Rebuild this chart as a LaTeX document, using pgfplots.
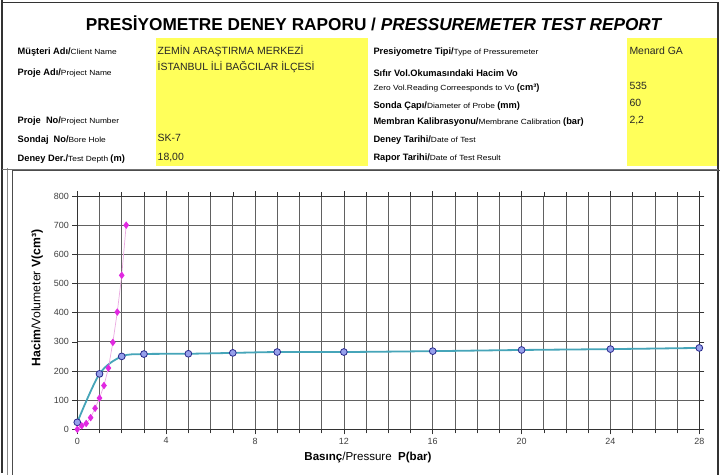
\documentclass[border=0pt]{standalone}
\usepackage{pgfplots}
\pgfplotsset{compat=1.18}
\usepackage{fontspec}
\setmainfont{Liberation Sans}
\newfontfamily\wideff{Liberation Sans}[FakeStretch=1.12]
\definecolor{hlyellow}{RGB}{255,255,90}
\definecolor{curveteal}{RGB}{70,165,185}
\definecolor{markfill}{RGB}{150,160,235}
\definecolor{markedge}{RGB}{40,40,140}
\definecolor{magdot}{RGB}{225,40,225}
\definecolor{magline}{RGB}{235,170,225}
\newcommand\B[1]{{\fontsize{9.3}{10}\selectfont\bfseries #1}}
\newcommand\Sm[1]{{\wideff\fontsize{7.5}{9}\selectfont #1}}
\newcommand\V[1]{{\fontsize{10.5}{12}\selectfont\color{black!85}#1}}
\begin{document}
\begin{tikzpicture}
\useasboundingbox (0bp,0bp) rectangle (720bp,475bp);
\fill[white] (0bp,0bp) rectangle (720bp,475bp);
\begin{scope}[x=1bp,y=1bp]
% yellow fields
\fill[hlyellow] (156,309) rectangle (368,437);
\fill[hlyellow] (627,309) rectangle (717,437);
% frames
\draw[black!80, line width=1.4bp] (2,475) -- (2,2.5) ;
\draw[black!80, line width=1.4bp] (2,472.5) -- (718,472.5) -- (718,0);
\draw[black!45, line width=0.8bp] (7.5,307) -- (7.5,0);
\draw[black!55, line width=0.8bp] (2,306) -- (718,306);
\draw[black!70, line width=0.8bp] (12.7,0) -- (12.7,304.5) -- (720,304.5);
% title
\node[anchor=base, inner sep=0] at (373.5,444.7) {\fontsize{17.3}{20}\selectfont\bfseries PRESİYOMETRE DENEY RAPORU / \itshape PRESSUREMETER TEST REPORT};
% left labels
\node[anchor=base west, inner sep=0] at (17.5,420) {\B{Müşteri Adı/}\Sm{Client Name}};
\node[anchor=base west, inner sep=0] at (17.5,399.4) {\B{Proje Adı/}\Sm{Project Name}};
\node[anchor=base west, inner sep=0] at (17.5,352) {\B{Proje\ \ No/}\Sm{Project Number}};
\node[anchor=base west, inner sep=0] at (17.5,332.7) {\B{Sondaj\ \ No/}\Sm{Bore Hole}};
\node[anchor=base west, inner sep=0] at (17.5,314) {\B{Deney Der./}\Sm{Test Depth }\B{(m)}};
% left values
\node[anchor=base west, inner sep=0] at (157.5,420.5) {\V{ZEMİN ARAŞTIRMA MERKEZİ}};
\node[anchor=base west, inner sep=0] at (157.5,404.5) {\V{İSTANBUL İLİ BAĞCILAR İLÇESİ}};
\node[anchor=base west, inner sep=0] at (157.5,334) {\V{SK-7}};
\node[anchor=base west, inner sep=0] at (157.5,314.6) {\V{18,00}};
% right labels
\node[anchor=base west, inner sep=0] at (373.3,420) {\B{Presiyometre Tipi/}\Sm{Type of Pressuremeter}};
\node[anchor=base west, inner sep=0] at (373.3,398) {\B{Sıfır Vol.Okumasındaki Hacim Vo}};
\node[anchor=base west, inner sep=0] at (373.3,384.5) {\Sm{Zero Vol.Reading Correesponds to Vo }\B{(cm³)}};
\node[anchor=base west, inner sep=0] at (373.3,366.7) {\B{Sonda Çapı/}\Sm{Diameter of Probe }\B{(mm)}};
\node[anchor=base west, inner sep=0] at (373.3,350.7) {\B{Membran Kalibrasyonu/}\Sm{Membrane Calibration }\B{(bar)}};
\node[anchor=base west, inner sep=0] at (373.3,332.7) {\B{Deney Tarihi/}\Sm{Date of Test}};
\node[anchor=base west, inner sep=0] at (373.3,315) {\B{Rapor Tarihi/}\Sm{Date of Test Result}};
% right values
\node[anchor=base west, inner sep=0] at (629.3,420.5) {\V{Menard GA}};
\node[anchor=base west, inner sep=0] at (629.3,385.3) {\V{535}};
\node[anchor=base west, inner sep=0] at (629.3,368.7) {\V{60}};
\node[anchor=base west, inner sep=0] at (629.3,352) {\V{2,2}};
% axis labels
\node[inner sep=0] at (368,17.7) {\fontsize{11.6}{13}\selectfont\textbf{Basınç}/Pressure\ \ \textbf{P(bar)}};
\node[inner sep=0, rotate=90] at (37.3,177) {\fontsize{12.3}{14}\selectfont\textbf{Hacim}/Volumeter \textbf{V(cm³)}};
\end{scope}
\begin{axis}[
  at={(77.3bp,45.7bp)}, anchor=south west, scale only axis,
  width=622bp, height=233.3bp,
  xmin=0, xmax=28, ymin=0, ymax=800,
  xtick={0,4,...,28}, minor xtick={0,1,...,28},
  ytick={0,100,...,800},
  grid=both,
  major grid style={black!62, line width=0.7bp},
  minor grid style={black!62, line width=0.7bp},
  tick align=outside,
  major tick length=5bp, minor tick length=4bp,
  tick style={black!80, line width=0.6bp},
  axis line style={black!80, line width=0.8bp},
  ticklabel style={font=\fontsize{9}{10}\selectfont, text=black!75},
  /pgf/number format/assume math mode=true,
  clip=false,
]
\addplot[smooth, tension=0.5, color=curveteal, line width=1.8bp,
  mark=*, mark size=3.4bp,
  mark options={fill=markfill, draw=markedge, line width=0.8bp}]
  coordinates {(0,24) (1,190) (2,250) (3,258) (5,259) (7,262) (9,265) (12,265) (16,268) (20,272) (24,275) (28,279)};
\addplot[color=magline, line width=0.7bp,
  mark=diamond*, mark size=3.2bp,
  mark options={fill=magdot, draw=magdot}]
  coordinates {(0,0) (0.2,12) (0.4,20) (0.6,40) (0.8,72) (1.0,107) (1.2,150) (1.4,210) (1.6,298) (1.8,402) (2.0,528) (2.2,700)};
\end{axis}
\end{tikzpicture}
\end{document}
